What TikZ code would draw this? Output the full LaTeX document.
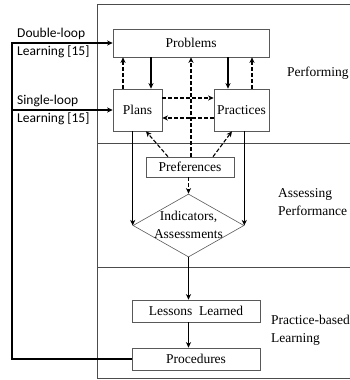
\documentclass[tikz,border=0pt]{standalone}
\usepackage{fontspec}
\setmainfont{Liberation Serif}
\newfontfamily\lblfont{Carlito}
\usetikzlibrary{arrows.meta,shapes.geometric}

\begin{document}
\begin{tikzpicture}[x=1pt,y=-1pt,
  font=\fontsize{13.5}{18}\selectfont,
  frame/.style={draw=black!70,line width=0.7pt},
  box/.style={draw=black!65,line width=0.6pt,inner sep=0pt,fill=white},
  arr/.style={line width=1.1pt,-{Stealth[length=5.5pt,width=5pt,inset=1.5pt]}},
  darr/.style={arr,dash pattern=on 4pt off 2pt},
  txt/.style={inner sep=0pt,align=left},
  lbl/.style={inner sep=0pt,align=left,font=\lblfont\fontsize{13.5}{18}\selectfont}]

\useasboundingbox (0,0) rectangle (350,380);

% swim-lane frame: performing / assessing / learning
\draw[frame] (351,4) -- (97,4) -- (97,378) -- (351,378);
\draw[frame] (97,143) -- (351,143);
\draw[frame] (97,267) -- (351,267);

% lane titles
\node[txt,anchor=west] (perf) at (287,73) {Performing};
\node[txt,anchor=west] (asp) at (278,202) {Assessing\\Performance};
\node[txt,anchor=west] (pbl) at (271,330) {Practice-based\\Learning};

% process elements
\node[box,minimum width=156,minimum height=28] (prob) at (191,43) {Problems};
\node[box,minimum width=49,minimum height=42] (plans) at (137.5,110) {Plans};
\node[box,minimum width=55,minimum height=42] (prac) at (241.5,110) {Practices};
\node[box,minimum width=88,minimum height=20] (pref) at (190,167) {Preferences};
\node[draw=black!65,line width=0.6pt,diamond,aspect=1.76,inner sep=0pt,
      minimum width=111,minimum height=63] (ind) at (188.5,225.5) {};
\node[txt,align=center] (indtext) at (188.5,225) {Indicators,\\Assessments};
\node[box,minimum width=128,minimum height=22] (les) at (196,311) {Lessons\ \ Learned};
\node[box,minimum width=128,minimum height=22] (proc) at (196,359) {Procedures};

% performing lane
\draw[arr]  ([xshift=-40]prob.south) -- ([xshift=13.5]plans.north);
\draw[darr] ([xshift=-14.5]plans.north) -- ([xshift=-68]prob.south);
\draw[arr]  ([xshift=37]prob.south) -- ([xshift=-13.5]prac.north);
\draw[darr] ([xshift=10.5]prac.north) -- ([xshift=61]prob.south);
\draw[darr] ([yshift=12]plans.east) -- ([yshift=12]prac.west);
\draw[darr] ([yshift=-8]prac.west) -- ([yshift=-8]plans.east);

% preferences influence
\draw[darr] ([xshift=1]pref.north) -- (prob.south);
\draw[darr] ([xshift=-22]pref.north) -- ([xshift=8.5]plans.south);
\draw[darr] ([xshift=23]pref.north) -- ([xshift=-9.5]prac.south);
\draw[darr] ([xshift=-1.5]pref.south) -- (ind.north);

% assessment and learning
\draw[arr] (ind.west |- plans.south) -- (ind.west);
\draw[arr] (ind.east |- prac.south) -- (ind.east);
\draw[arr] (ind.south) -- (ind.south |- les.north);
\draw[arr] (ind.south |- les.south) -- (ind.south |- proc.north);

% feedback loops
\coordinate (lb) at (12,359);
\coordinate (lt) at (12,43);
\draw[arr] (proc.west) -- (lb) -- (lt) -- (prob.west);
\draw[arr] (lb |- plans.west) -- (plans.west);

\node[lbl,anchor=west] (dl) at (17,43) {Double-loop\\Learning [15]};
\node[lbl,anchor=west] (sl) at (17,110) {Single-loop\\Learning [15]};
\end{tikzpicture}
\end{document}
